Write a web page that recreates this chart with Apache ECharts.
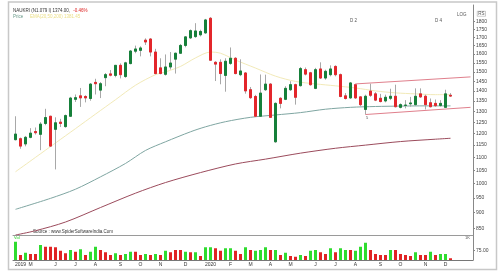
<!DOCTYPE html>
<html><head><meta charset="utf-8">
<style>html,body{margin:0;padding:0;background:#fff}#c{width:500px;height:280px}</style>
<script src="https://cdn.jsdelivr.net/npm/echarts@6/dist/echarts.min.js"></script>
</head><body><div id="c"></div>
<script>
const startDate = '2019-04-08';
const opens = [1173,1177,1155,1183,1208,1196,1244,1277,1218,1250,
  1230,1277,1358,1375,1372,1362,1444,1404,1469,1489,
  1481,1536,1475,1546,1617,1622,1683,1690,1612,1522,
  1487,1527,1571,1605,1651,1697,1705,1716,1728,1822,
  1553,1553,1481,1547,1576,1485,1494,1406,1372,1277,
  1406,1435,1164,1363,1358,1406,1432,1427,1512,1495,
  1413,1516,1467,1485,1530,1485,1375,1365,1432,1370,
  1309,1399,1385,1363,1350,1363,1373,1319,1328,1336,
  1332,1385,1373,1341,1338,1328,1319,1378];
const closes = [1197,1146,1183,1201,1203,1241,1271,1146,1247,1244,
  1280,1364,1366,1365,1365,1435,1437,1437,1485,1482,
  1536,1485,1550,1618,1630,1636,1672,1612,1491,1491,
  1527,1549,1605,1651,1703,1742,1740,1737,1811,1565,
  1543,1491,1559,1576,1491,1505,1400,1366,1277,1389,
  1435,1272,1338,1338,1413,1432,1368,1518,1488,1432,
  1512,1467,1503,1516,1485,1372,1362,1441,1365,1332,
  1373,1378,1354,1347,1368,1373,1322,1332,1330,1340,
  1373,1370,1332,1322,1327,1338,1385,1374];
const lows = [1170,1135,1145,1179,1195,1129,1236,1142,1053,1228,
  1225,1274,1345,1321,1343,1351,1382,1364,1424,1476,
  1471,1465,1468,1542,1605,1587,1654,1587,1487,1487,
  1480,1513,1491,1602,1640,1690,1697,1706,1722,1563,
  1451,1434,1396,1539,1487,1477,1386,1360,1274,1274,
  1400,1269,1160,1314,1354,1400,1332,1422,1481,1427,
  1409,1462,1458,1476,1476,1368,1357,1360,1360,1324,
  1285,1370,1349,1343,1343,1354,1319,1314,1314,1322,
  1327,1365,1309,1319,1322,1322,1317,1370];
const highs = [1277,1182,1189,1223,1226,1250,1312,1279,1272,1265,
  1285,1370,1382,1415,1378,1440,1463,1446,1494,1510,
  1536,1547,1556,1624,1650,1646,1694,1695,1631,1576,
  1598,1612,1608,1660,1708,1750,1790,1748,1818,1830,
  1559,1570,1576,1639,1582,1570,1499,1420,1380,1486,
  1485,1440,1343,1368,1424,1450,1437,1527,1524,1500,
  1522,1553,1512,1536,1536,1491,1389,1446,1437,1373,
  1381,1437,1394,1385,1381,1411,1432,1338,1354,1370,
  1413,1413,1381,1362,1357,1354,1406,1389];
const volumes = [146,40,58,48,48,120,106,106,102,74,
  54,80,66,86,40,66,106,80,62,40,
  54,40,48,66,66,40,48,40,48,40,
  74,62,80,80,66,62,62,32,102,102,
  94,74,94,94,74,48,102,80,74,80,
  102,80,80,40,58,32,26,40,32,74,
  80,62,48,94,62,94,80,80,74,106,
  138,80,48,40,40,80,80,48,40,32,
  62,40,40,66,40,48,48,14];
const volDir = ['u','d','u','d','d','u','d','d','d','d',
  'd','u','d','u','d','u','u','d','d','d',
  'u','d','u','u','d','d','u','d','u','d',
  'u','d','d','d','u','d','u','d','u','u',
  'd','d','u','u','d','d','u','d','u','u',
  'u','d','u','d','u','d','d','u','d','u',
  'u','d','d','u','d','u','u','d','u','u',
  'u','d','d','d','d','u','d','d','d','d',
  'u','d','d','u','d','u','u','d'];
// moving averages read at sample weeks: [weekIndex, value]
const maFast = [[0,1044],[4,1100],[8,1159],[12,1221],[16,1287],[20,1356],[24,1429],[28,1485],[30,1500],[33,1530],[36,1578],[39,1612],[41,1605],[44,1566],[48,1521],[52,1477],[56,1449],[60,1436],[64,1426],[68,1415],[72,1400],[76,1390],[80,1385],[84,1381],[87,1381]];
const maMid = [[0,911],[7,948],[12,980],[17,1025],[22,1076],[26,1128],[30,1164],[35,1207],[38,1229],[42,1252],[47,1272],[52,1283],[57,1294],[62,1310],[67,1319],[72,1323],[77,1325],[82,1326],[87,1326]];
const maSlow = [[0,830],[4,843],[10,870],[17,917],[24,966],[30,1004],[37,1041],[44,1074],[50,1093],[57,1117],[64,1137],[70,1150],[77,1165],[84,1175],[87,1179]];
const channelUpper = [[68,1436],[91,1473]];
const channelLower = [[70,1285],[91,1319]];
const priceTicks = [850,900,950,1000,1050,1100,1150,1200,1250,1300,1350,1400,1450,1500,1550,1600,1650,1700,1750,1800];
const volTicks = [75];
const tickIdx = [1,3,8,12,16,21,25,29,34,39,43,47,51,55,60,64,68,73,77,82,86];
const tickText = ['2019','M','J','J','A','S','O','N','D','2020','F','M','A','M','J','J','A','S','O','N','D'];

const N = opens.length, PAD = 4;
const cats = [];
const d0 = new Date(startDate + 'T00:00:00Z');
for (let i = 0; i < N + PAD; i++) { cats.push(new Date(d0.getTime() + i * 7 * 864e5).toISOString().slice(0, 10)); }
const ohlc = opens.map((o, i) => [o, closes[i], lows[i], highs[i]]);
const bodies = opens.map((o, i) => [o, closes[i], Math.min(o, closes[i]), Math.max(o, closes[i])]);
const UP = '#16803a', DN = '#e3262b', VUP = '#2fdc2f', VDN = '#e02424', WICK = '#a8a8a8';
const volData = volumes.map((v, i) => ({ value: v, itemStyle: { color: volDir[i] === 'u' ? VUP : VDN } }));
const FF = '"Liberation Sans", Arial, sans-serif';

const chart = echarts.init(document.getElementById('c'), null, { renderer: 'canvas' });
chart.setOption({
  animation: false,
  backgroundColor: '#fff',
  textStyle: { fontFamily: FF },
  grid: [
    { left: 13, right: 27, top: 5, height: 230, containLabel: false, outerBoundsMode: 'none' },
    { left: 13, right: 27, top: 235, height: 25, containLabel: false, outerBoundsMode: 'none' }
  ],
  xAxis: [
    { type: 'category', gridIndex: 0, data: cats, boundaryGap: true,
      axisLine: { show: true, lineStyle: { color: '#9a9a9a', width: 1 } },
      axisTick: { show: false }, axisLabel: { show: false }, splitLine: { show: false } },
    { type: 'category', gridIndex: 1, data: cats, boundaryGap: true,
      axisLine: { show: true, lineStyle: { color: '#777', width: 1 } },
      axisTick: { show: false }, splitLine: { show: false },
      axisLabel: { show: true, fontSize: 5, color: '#333', margin: 2, hideOverlap: false,
        interval: (i) => tickIdx.indexOf(i) >= 0,
        formatter: (v, i) => { const k = tickIdx.indexOf(i); return k >= 0 ? tickText[k] : ''; } } }
  ],
  yAxis: [
    { type: 'log', logBase: 10, gridIndex: 0, position: 'right', min: 830, max: 1912,
      axisLine: { show: true, lineStyle: { color: '#888', width: 1 } },
      axisTick: { show: true, length: 2, customValues: priceTicks, lineStyle: { color: '#888' } },
      axisLabel: { show: true, customValues: priceTicks, fontSize: 5, color: '#444', margin: 3, formatter: v => String(Math.round(v)) },
      splitLine: { show: false } },
    { type: 'value', gridIndex: 1, position: 'right', min: 0, max: 200,
      axisLine: { show: true, lineStyle: { color: '#888', width: 1 } },
      axisTick: { show: true, length: 2, customValues: volTicks, lineStyle: { color: '#888' } },
      axisLabel: { show: true, customValues: volTicks, fontSize: 5, color: '#444', margin: 3, formatter: v => Number(v).toFixed(2) },
      splitLine: { show: false } }
  ],
  series: [
    { type: 'line', xAxisIndex: 0, yAxisIndex: 0, data: maFast, symbol: 'none', smooth: 0.3, z: 1,
      lineStyle: { color: '#f2eab8', width: 1 } },
    { type: 'line', xAxisIndex: 0, yAxisIndex: 0, data: maMid, symbol: 'none', smooth: 0.3, z: 1,
      lineStyle: { color: '#7fa6a2', width: 1 } },
    { type: 'line', xAxisIndex: 0, yAxisIndex: 0, data: maSlow, symbol: 'none', smooth: 0.3, z: 1,
      lineStyle: { color: '#9b4b5c', width: 1 } },
    { type: 'candlestick', xAxisIndex: 0, yAxisIndex: 0, data: ohlc, barWidth: 3, z: 2, silent: true,
      itemStyle: { color: WICK, color0: WICK, borderColor: WICK, borderColor0: WICK, borderWidth: 1 } },
    { type: 'candlestick', xAxisIndex: 0, yAxisIndex: 0, data: bodies, barWidth: 3, z: 3, silent: true,
      itemStyle: { color: UP, color0: DN, borderColor: UP, borderColor0: DN, borderWidth: 1 },
      markLine: { symbol: 'none', silent: true, animation: false,
        lineStyle: { color: '#e07f8c', width: 1, type: 'solid' }, label: { show: false },
        data: [
          [{ coord: channelUpper[0] }, { coord: channelUpper[1] }],
          [{ coord: channelLower[0] }, { coord: channelLower[1] }],
          { yAxis: closes[N - 1], lineStyle: { opacity: 0 },
            label: { show: true, position: 'end', distance: 1, formatter: closes[N - 1].toFixed(2),
              backgroundColor: '#111', color: '#fff', fontSize: 5, padding: [2, 3] } }
        ] } },
    { type: 'bar', xAxisIndex: 1, yAxisIndex: 1, data: volData, barWidth: 3,
      markLine: { symbol: 'none', silent: true, animation: false,
        data: [{ yAxis: volumes[N - 1], lineStyle: { opacity: 0 },
          label: { show: true, position: 'end', distance: 1, formatter: volumes[N - 1].toFixed(2),
            backgroundColor: '#111', color: '#fff', fontSize: 5, padding: [2, 3] } }] } }
  ],
  graphic: [
    { type: 'rect', shape: { x: 8.5, y: 2, width: 488, height: 267.5 }, style: { fill: 'none', stroke: '#c8c8c8', lineWidth: 1.5 }, silent: true },
    { type: 'text', left: 13, top: 5, style: { text: '{a|NAUKRI (N1.079 I) 1374.00,} {b|-0.46%}', rich: {
      a: { fontSize: 4.5, fill: '#333', fontFamily: FF }, b: { fontSize: 4.5, fill: '#d22', fontFamily: FF } } } },
    { type: 'text', left: 13, top: 11, style: { text: '{a|Price}  {b|EMA(20,50,200) 1381.45}', rich: {
      a: { fontSize: 4.5, fill: '#6a9a8a', fontFamily: FF }, b: { fontSize: 4.5, fill: '#ece08a', fontFamily: FF } } } },
    { type: 'text', left: 33, top: 229, style: { text: 'Source : www.SpiderSoftwareIndia.Com', fontSize: 4.5, fill: '#333', fontFamily: FF } },
    { type: 'text', left: 14, top: 236, style: { text: 'Vol', fontSize: 4, fill: '#2c2', fontFamily: FF } },
    { type: 'text', left: 457, top: 12, style: { text: 'LOG', fontSize: 4.5, fill: '#555', fontFamily: FF } },
    { type: 'text', left: 477, top: 11, style: { text: 'RS', fontSize: 4.5, fill: '#555', fontFamily: FF, borderColor: '#999', borderWidth: 0.5, padding: [0, 1] } },
    { type: 'text', left: 350, top: 18, style: { text: 'D 2', fontSize: 4.5, fill: '#555', fontFamily: FF } },
    { type: 'text', left: 435, top: 18, style: { text: 'D 4', fontSize: 4.5, fill: '#555', fontFamily: FF } },
    { type: 'text', left: 465, top: 236, style: { text: '1K', fontSize: 4, fill: '#555', fontFamily: FF } },
    { type: 'text', left: 366, top: 116, style: { text: '5', fontSize: 4, fill: '#555', fontFamily: FF } }
  ]
});
</script>
</body></html>
